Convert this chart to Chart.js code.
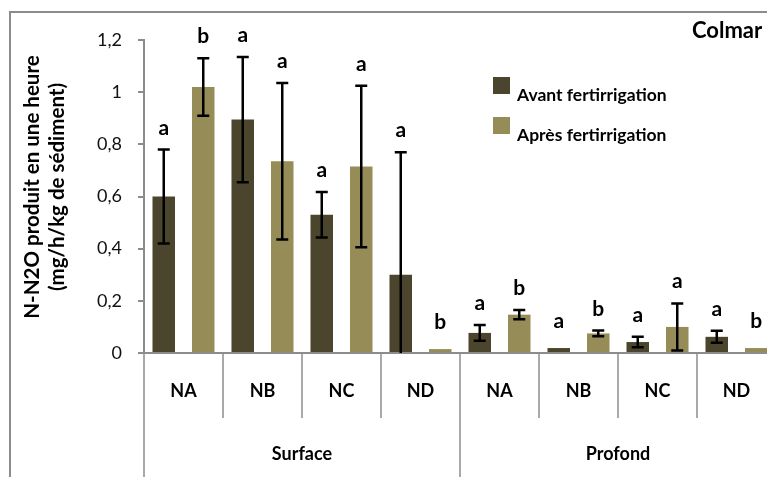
<!DOCTYPE html>
<html>
<head>
<meta charset="utf-8">
<script src="https://cdn.jsdelivr.net/npm/chart.js@4.4.0/dist/chart.umd.min.js"></script>
<style>
  html, body { margin: 0; padding: 0; background: #fff; overflow: hidden; }
  #wrap { width: 800px; height: 477px; position: relative; }
</style>
</head>
<body>
<div id="wrap"><canvas id="c"></canvas></div>
<script>
// data
const categories = ["NA", "NB", "NC", "ND", "NA", "NB", "NC", "ND"];
const groups = ["Surface", "Profond"];
const seriesNames = ["Avant fertirrigation", "Après fertirrigation"];
const avant = [0.60, 0.895, 0.53, 0.30, 0.077, 0.019, 0.042, 0.062];
const apres = [1.02, 0.735, 0.715, 0.015, 0.147, 0.075, 0.10, 0.019];
const avantErr = [0.18, 0.24, 0.087, 0.47, 0.03, 0, 0.02, 0.023];
const apresErr = [0.11, 0.30, 0.31, 0, 0.018, 0.011, 0.09, 0];
const avantLetters = ["a", "a", "a", "a", "a", "a", "a", "a"];
const apresLetters = ["b", "a", "a", "b", "b", "b", "a", "b"];
const yTicks = [0, 0.2, 0.4, 0.6, 0.8, 1, 1.2];
const yTitle = ["N-N2O produit en une heure", "(mg/h/kg de sédiment)"];
const chartTitle = "Colmar";

const colDark = "#4b452d";
const colLight = "#968c58";
const axisGrey = "#8c8c8c";
const FONT = "Lato, 'DejaVu Sans', sans-serif";

Chart.defaults.font.family = FONT;

const errors = [avantErr, apresErr];
const letters = [avantLetters, apresLetters];

const extras = {
  id: "extras",
  afterDatasetsDraw(chart) {
    const ctx = chart.ctx;
    const y = chart.scales.y;
    ctx.save();
    for (let d = 0; d < 2; d++) {
      const meta = chart.getDatasetMeta(d);
      const vals = chart.data.datasets[d].data;
      meta.data.forEach((bar, i) => {
        const v = vals[i], e = errors[d][i];
        const x = bar.x;
        let topPx = y.getPixelForValue(v);
        if (e > 0) {
          const hi = y.getPixelForValue(v + e);
          const loV = v - e;
          const lo = y.getPixelForValue(Math.max(loV, 0));
          ctx.strokeStyle = "#000";
          ctx.lineWidth = 2.5;
          ctx.beginPath();
          ctx.moveTo(x, hi); ctx.lineTo(x, lo);
          ctx.moveTo(x - 6, hi); ctx.lineTo(x + 6, hi);
          if (loV > 0) { ctx.moveTo(x - 6, lo); ctx.lineTo(x + 6, lo); }
          ctx.stroke();
          topPx = hi;
        }
        ctx.fillStyle = "#000";
        ctx.font = "bold 21px " + FONT;
        ctx.textAlign = "center";
        ctx.textBaseline = "alphabetic";
        ctx.fillText(letters[d][i], x, topPx - (e > 0 ? 15 : 20));
      });
    }
    ctx.restore();
  },
  afterDraw(chart) {
    const ctx = chart.ctx;
    const xs = chart.scales.x;
    const area = chart.chartArea;
    const n = categories.length;
    ctx.save();
    // outer frame
    ctx.strokeStyle = axisGrey;
    ctx.lineWidth = 2;
    ctx.beginPath();
    ctx.moveTo(10, 477); ctx.lineTo(10, 12); ctx.lineTo(800, 12);
    ctx.stroke();

    // category dividers and labels
    const step = (xs.getPixelForValue(1) - xs.getPixelForValue(0));
    ctx.lineWidth = 1.5;
    for (let i = 0; i <= n; i++) {
      const bx = xs.getPixelForValue(0) - step / 2 + i * step;
      const long = i % 4 === 0;
      ctx.beginPath();
      ctx.moveTo(bx, area.bottom);
      ctx.lineTo(bx, long ? 477 : 418);
      ctx.stroke();
    }
    ctx.fillStyle = "#000";
    ctx.textAlign = "center";
    ctx.textBaseline = "middle";
    ctx.font = "bold 18px " + FONT;
    categories.forEach((c, i) => ctx.fillText(c, xs.getPixelForValue(i), 391));
    groups.forEach((g, k) => {
      const cx = (xs.getPixelForValue(k * 4) + xs.getPixelForValue(k * 4 + 3)) / 2;
      ctx.fillText(g, cx, 454);
    });

    // legend
    const legY = [77, 117];
    [colDark, colLight].forEach((c, k) => {
      ctx.fillStyle = c;
      ctx.fillRect(493, legY[k], 17, 17);
      ctx.fillStyle = "#000";
      ctx.font = "bold 17.5px " + FONT;
      ctx.textAlign = "left";
      ctx.textBaseline = "alphabetic";
      ctx.fillText(seriesNames[k], 517, legY[k] + 24);
    });

    // title
    ctx.font = "bold 22px " + FONT;
    ctx.fillText(chartTitle, 692, 38);

    // y title
    ctx.translate(0, 187);
    ctx.rotate(-Math.PI / 2);
    ctx.textAlign = "center";
    ctx.textBaseline = "middle";
    ctx.font = "bold 20.5px " + FONT;
    ctx.fillText(yTitle[0], 0, 32);
    ctx.fillText(yTitle[1], 0, 57);
    ctx.restore();
  }
};

new Chart(document.getElementById("c"), {
  type: "bar",
  data: {
    labels: categories,
    datasets: [
      { label: seriesNames[0], data: avant, backgroundColor: colDark },
      { label: seriesNames[1], data: apres, backgroundColor: colLight }
    ]
  },
  options: {
    responsive: true,
    maintainAspectRatio: false,
    animation: false,
    layout: { padding: { top: 40, right: 24, left: 0, bottom: 0 } },
    datasets: { bar: { barPercentage: 0.57, categoryPercentage: 1 } },
    plugins: { legend: { display: false }, tooltip: { enabled: false } },
    scales: {
      x: {
        grid: { display: false },
        ticks: { display: false },
        border: { color: axisGrey, width: 2 },
        afterFit(s) { s.height = 124; }
      },
      y: {
        min: 0,
        max: 1.2,
        afterBuildTicks(s) { s.ticks = yTicks.map(v => ({ value: v })); },
        ticks: {
          padding: 16,
          color: "#111",
          font: { size: 18 },
          callback: v => Number(v.toFixed(1)).toLocaleString("fr-FR")
        },
        grid: { drawOnChartArea: false, drawTicks: true, tickLength: 6, color: axisGrey, lineWidth: 2 },
        border: { color: axisGrey, width: 2 },
        afterFit(s) { s.width = 144; }
      }
    }
  },
  plugins: [extras]
});
</script>
</body>
</html>
